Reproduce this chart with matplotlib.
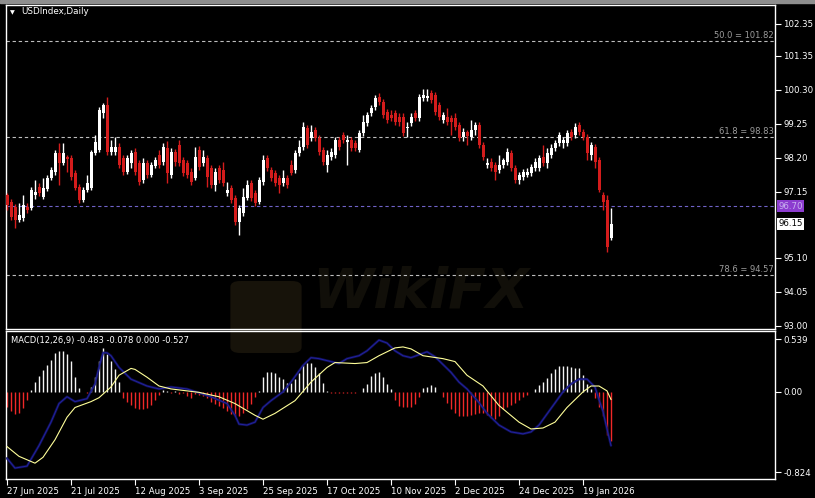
import numpy as np
import matplotlib
matplotlib.use("Agg")
import matplotlib.pyplot as plt
import matplotlib.transforms as mtransforms
from matplotlib.patches import FancyBboxPatch, Rectangle

# ---------------- data ----------------
opens = [97.04, 96.83, 96.67, 96.27, 96.33, 96.67, 96.64, 97.04, 97.29, 96.98,
         97.23, 97.57, 97.76, 98.34, 98.03, 98.22, 98.19, 97.72, 97.29, 96.89,
         97.20, 97.26, 98.34, 98.44, 99.58, 99.83, 98.37, 98.37, 98.53, 98.19,
         97.76, 98.03, 98.37, 98.03, 97.51, 98.03, 97.66, 97.94, 98.28, 98.06,
         98.50, 97.66, 98.37, 98.59, 98.13, 98.03, 97.76, 97.57, 98.44, 98.03,
         98.19, 97.88, 97.35, 97.88, 97.82, 97.11, 97.26, 96.95, 96.21, 96.49,
         96.95, 97.41, 97.11, 96.83, 97.45, 98.19, 97.82, 97.72, 97.57, 97.41,
         97.57, 97.97, 97.82, 98.34, 98.53, 99.12, 98.81, 99.06, 98.81, 98.44,
         97.97, 98.22, 98.28, 98.75, 98.90, 98.68, 98.75, 98.65, 98.44, 98.96,
         99.27, 99.58, 99.77, 100.08, 99.92, 99.61, 99.52, 99.58, 99.46, 99.46,
         99.12, 99.27, 99.58, 99.43, 100.05, 100.05, 100.20, 100.14, 99.83, 99.36,
         99.46, 99.43, 99.43, 99.21, 98.84, 98.99, 98.84, 99.06, 99.21, 98.59,
         97.97, 98.06, 97.97, 97.82, 97.97, 98.06, 98.34, 97.88, 97.51, 97.60,
         97.66, 97.72, 97.88, 97.88, 98.22, 98.03, 98.28, 98.50, 98.65, 98.65,
         98.65, 98.99, 98.90, 99.21, 98.99, 98.84, 98.28, 98.53, 98.13, 97.04,
         96.89, 95.71]
closes = [96.73, 96.36, 96.27, 96.42, 96.73, 96.58, 97.20, 97.14, 97.11, 97.26,
          97.57, 97.82, 98.34, 98.03, 98.34, 98.16, 97.60, 97.26, 96.89, 97.20,
          97.41, 98.37, 98.68, 99.67, 99.83, 98.37, 98.53, 98.53, 97.97, 97.76,
          98.19, 98.34, 97.76, 97.45, 98.03, 97.66, 97.97, 98.13, 97.97, 98.53,
          97.72, 98.37, 98.06, 98.03, 97.72, 97.66, 97.45, 98.22, 97.91, 98.22,
          97.60, 97.35, 97.76, 97.51, 97.41, 97.20, 96.89, 96.21, 96.64, 96.98,
          97.35, 96.95, 96.80, 97.51, 98.13, 97.88, 97.57, 97.41, 97.35, 97.57,
          97.35, 97.72, 98.34, 98.53, 99.15, 98.59, 98.99, 98.81, 98.37, 98.06,
          98.28, 98.37, 98.75, 98.53, 98.75, 98.75, 98.50, 98.50, 98.96, 99.30,
          99.52, 99.74, 100.05, 99.92, 99.52, 99.36, 99.43, 99.30, 99.30, 98.96,
          99.15, 99.46, 99.43, 100.08, 100.14, 100.11, 99.98, 99.61, 99.46, 99.52,
          99.30, 99.30, 99.15, 98.81, 98.99, 98.87, 99.06, 99.21, 98.59, 98.22,
          98.03, 97.88, 97.76, 97.97, 98.13, 98.37, 97.88, 97.51, 97.66, 97.76,
          97.76, 97.91, 98.06, 98.19, 98.03, 98.34, 98.50, 98.65, 98.90, 98.75,
          98.96, 98.84, 99.15, 98.99, 98.84, 98.34, 98.59, 98.06, 97.20, 96.83,
          95.43, 96.15]
highs = [97.10, 96.92, 96.76, 96.79, 97.04, 96.79, 97.29, 97.51, 97.41, 97.57,
         97.66, 97.91, 98.44, 98.65, 98.65, 98.28, 98.28, 97.82, 97.38, 97.29,
         97.66, 98.44, 98.90, 99.77, 99.89, 100.08, 98.75, 98.84, 98.65, 98.28,
         98.28, 98.44, 98.50, 98.13, 98.19, 98.13, 98.06, 98.22, 98.44, 98.65,
         98.71, 98.50, 98.47, 98.75, 98.22, 98.13, 97.88, 98.53, 98.56, 98.44,
         98.28, 97.97, 97.88, 97.97, 98.06, 97.45, 97.35, 97.04, 96.73, 97.26,
         97.51, 97.51, 97.20, 97.60, 98.28, 98.28, 97.91, 97.82, 97.66, 97.82,
         97.66, 98.13, 98.44, 98.75, 99.30, 99.21, 99.21, 99.15, 98.90, 98.53,
         98.44, 98.50, 98.84, 98.84, 98.99, 98.90, 98.84, 98.75, 99.06, 99.52,
         99.61, 99.83, 100.14, 100.20, 100.02, 99.71, 99.67, 99.67, 99.58, 99.58,
         99.30, 99.58, 99.67, 100.17, 100.32, 100.32, 100.29, 100.23, 99.92, 99.61,
         99.74, 99.52, 99.58, 99.30, 99.12, 99.06, 99.36, 99.30, 99.30, 98.68,
         98.19, 98.19, 98.06, 98.28, 98.19, 98.50, 98.44, 97.97, 97.76, 97.85,
         97.88, 98.00, 98.19, 98.28, 98.59, 98.50, 98.62, 98.75, 98.99, 98.84,
         99.06, 99.09, 99.27, 99.30, 99.09, 98.93, 98.68, 98.62, 98.22, 97.14,
         97.04, 96.64]
lows = [96.58, 96.27, 96.02, 96.21, 96.24, 96.49, 96.58, 96.92, 97.01, 96.92,
        97.17, 97.51, 97.66, 97.35, 97.97, 97.76, 97.51, 97.20, 96.79, 96.83,
        97.14, 97.20, 98.28, 98.37, 99.43, 98.28, 98.28, 98.28, 97.88, 97.66,
        97.69, 97.88, 97.66, 97.35, 97.41, 97.57, 97.60, 97.88, 97.88, 97.97,
        97.41, 97.57, 97.94, 97.94, 97.63, 97.57, 97.35, 97.51, 97.82, 97.94,
        97.29, 97.26, 97.17, 97.41, 97.32, 97.01, 96.79, 96.11, 95.80, 96.39,
        96.89, 96.86, 96.70, 96.76, 97.35, 97.79, 97.48, 97.32, 97.11, 97.32,
        97.26, 97.66, 97.72, 98.25, 98.44, 98.50, 98.71, 98.71, 98.28, 97.97,
        97.76, 98.13, 98.19, 98.44, 98.65, 97.97, 98.41, 98.41, 98.37, 98.87,
        99.18, 99.49, 99.67, 99.83, 99.43, 99.27, 99.33, 99.21, 99.18, 98.87,
        98.84, 99.18, 99.33, 99.33, 99.95, 99.95, 99.89, 99.52, 99.36, 99.27,
        99.21, 98.90, 99.06, 98.71, 98.71, 98.59, 98.75, 98.90, 98.50, 98.13,
        97.88, 97.79, 97.51, 97.72, 97.88, 97.97, 97.79, 97.41, 97.38, 97.51,
        97.60, 97.63, 97.79, 97.79, 97.94, 97.88, 98.19, 98.41, 98.56, 98.50,
        98.56, 98.75, 98.81, 98.90, 98.75, 98.13, 98.13, 97.88, 97.14, 96.58,
        95.28, 95.65]

hist = [-0.15, -0.20, -0.23, -0.22, -0.17, -0.08,
        0.02, 0.10, 0.16, 0.22, 0.28, 0.33, 0.40, 0.42, 0.42, 0.39, 0.32, 0.15, 0.04,
        0.0, -0.01,
        0.05, 0.15, 0.32, 0.45, 0.39, 0.32, 0.23, 0.10,
        -0.06, -0.10, -0.13, -0.17, -0.18, -0.18, -0.17, -0.13, -0.08, -0.03,
        0.02, 0.01, -0.01, 0.01, -0.02, -0.01, -0.04, -0.06,
        -0.02, -0.03, -0.04, -0.06, -0.10, -0.12, -0.14, -0.17, -0.20, -0.23, -0.25, -0.25,
        -0.22, -0.18, -0.12, -0.05,
        0.01, 0.15, 0.20, 0.20, 0.19, 0.15, 0.13, 0.09, 0.09, 0.13, 0.19, 0.28, 0.30, 0.30,
        0.25, 0.19, 0.09, 0.01,
        -0.01, -0.01, -0.01, -0.01, -0.01, -0.01, -0.01, 0.0,
        0.04, 0.08, 0.16, 0.19, 0.20, 0.15, 0.08, 0.03,
        -0.08, -0.14, -0.16, -0.16, -0.15, -0.12, -0.05,
        0.04, 0.05, 0.07, 0.05, 0.0,
        -0.05, -0.11, -0.18, -0.22, -0.25, -0.25, -0.25, -0.24, -0.23, -0.22, -0.22,
        -0.24, -0.27, -0.28, -0.25, -0.18, -0.15, -0.13, -0.11, -0.08, -0.05, -0.03,
        0.0,
        0.03, 0.07, 0.10, 0.14, 0.19, 0.23, 0.26, 0.26, 0.26, 0.25, 0.24, 0.24, 0.17, 0.08, 0.03,
        -0.06, -0.15, -0.25, -0.44, -0.50]

sig_idx = [0, 3, 7, 9, 12, 15, 17, 21, 23, 26, 28, 31, 32, 35, 38, 41, 48, 53, 57, 62,
           64, 67, 72, 76, 80, 82, 87, 90, 93, 97, 99, 101, 104, 109, 112, 115, 119, 123, 128, 131,
           134, 137, 140, 144, 146, 148, 150, 151]
sig_val = [-0.56, -0.66, -0.73, -0.67, -0.49, -0.26, -0.16, -0.10, -0.06, 0.05,
           0.17, 0.24, 0.23, 0.15, 0.06, 0.03, -0.005, -0.05, -0.12, -0.24,
           -0.28, -0.22, -0.09, 0.10, 0.25, 0.30, 0.29, 0.30, 0.37, 0.45,
           0.46, 0.44, 0.37, 0.34, 0.31, 0.17, 0.06, -0.14, -0.31, -0.38,
           -0.37, -0.31, -0.16, 0.0, 0.06, 0.06, 0.01, -0.078]

macd_idx = [0, 2, 5, 8, 11, 13, 15, 17, 20, 22, 23, 24, 25, 26, 28, 31, 35, 38, 41, 45,
            48, 51, 55, 57, 58, 60, 62, 64, 66, 69, 71, 74, 76, 78, 80, 83, 85, 88, 90, 93,
            95, 97, 99, 101, 103, 105, 107, 109, 111, 113, 115, 118, 120, 123, 126, 129, 131, 133,
            136, 139, 141, 143, 145, 147, 148, 149, 150, 151]
macd_val = [-0.68, -0.78, -0.76, -0.55, -0.31, -0.12, -0.05, -0.10, -0.07, 0.08,
            0.25, 0.40, 0.40, 0.37, 0.25, 0.13, 0.06, 0.03, 0.05, 0.03,
            -0.01, -0.05, -0.12, -0.24, -0.33, -0.34, -0.31, -0.16, -0.09, 0.0,
            0.10, 0.27, 0.35, 0.34, 0.32, 0.29, 0.34, 0.37, 0.42, 0.53,
            0.50, 0.42, 0.37, 0.35, 0.38, 0.41, 0.36, 0.28, 0.20, 0.10,
            0.03, -0.11, -0.22, -0.34, -0.41, -0.43, -0.41, -0.34, -0.17, 0.0,
            0.08, 0.13, 0.13, 0.05, -0.08, -0.20, -0.38, -0.55]

date_idx = [0, 16, 32, 48, 64, 80, 96, 112, 128, 144]
date_labels = ["27 Jun 2025", "21 Jul 2025", "12 Aug 2025", "3 Sep 2025", "25 Sep 2025",
               "17 Oct 2025", "10 Nov 2025", "2 Dec 2025", "24 Dec 2025", "19 Jan 2026"]
price_ticks = [102.35, 101.35, 100.30, 99.25, 98.20, 97.15, 95.10, 94.05, 93.00]
macd_ticks = [0.539, 0.0, -0.824]
macd_tick_labels = ["0.539", "0.00", "-0.824"]
fib_levels = ["50.0", "61.8", "78.6"]
fib_values = [101.82, 98.83, 94.57]
bid_level = 96.70
last_price = 96.15

# ---------------- figure ----------------
W, H = 815, 498
RED = "#d41c1c"
fig = plt.figure(figsize=(W / 100, H / 100), dpi=100, facecolor="black")

def fx(px):
    return px / W

def fy(py):
    return 1 - py / H

# window strip on top
fig.patches.append(Rectangle((0, fy(3)), 1, 3 / H, transform=fig.transFigure,
                             color="#8e8e8e", zorder=-2))

# watermark (faint, behind panels)
fig.patches.append(FancyBboxPatch((fx(232), fy(352)), fx(300) - fx(232), fy(282) - fy(352),
                                  boxstyle="round,pad=0.002,rounding_size=0.012",
                                  transform=fig.transFigure, fc="#17130a", ec="none", zorder=-1))
fig.text(fx(312), fy(292), "WikiFX", fontsize=40, fontweight="bold", fontstyle="italic",
         color="#110f09", ha="left", va="center", zorder=-1)

ax1 = fig.add_axes([fx(6), fy(329), fx(775) - fx(6), fy(5) - fy(329)])
ax2 = fig.add_axes([fx(6), fy(479), fx(775) - fx(6), fy(331) - fy(479)])

for ax in (ax1, ax2):
    ax.set_facecolor("none")
    for s in ax.spines.values():
        s.set_color("white")
        s.set_linewidth(1.0)
    ax.set_xlim(-0.25, 192)

o = np.array(opens)
c = np.array(closes)
h = np.array(highs)
l = np.array(lows)
idx = np.arange(len(c))
up = c >= o
cols = np.where(up, "white", RED)

ax1.vlines(idx, l, h, colors=cols, linewidth=1.0, zorder=3)
body = np.maximum(np.abs(c - o), 0.03)
ax1.bar(idx, body, bottom=np.minimum(o, c), width=0.75, color=cols, linewidth=0, zorder=4)

ax1.set_ylim(92.894, 102.925)
blend = mtransforms.blended_transform_factory(ax1.transAxes, ax1.transData)
for lvl, v in zip(fib_levels, fib_values):
    ax1.axhline(v, color="#bdbdbd", linewidth=0.8, linestyle=(0, (3, 2.5)), zorder=2)
    ax1.text(0.998, v + 0.03, f"{lvl} = {v:.2f}", transform=blend, ha="right", va="bottom",
             fontsize=6, color="#9c9c9c", zorder=5)
ax1.axhline(bid_level, color="#6f62c8", linewidth=0.8, linestyle=(0, (3, 2.5)), zorder=2)

ax1.yaxis.tick_right()
ax1.set_yticks(price_ticks)
ax1.set_yticklabels([f"{t:.2f}" for t in price_ticks])
ax1.set_xticks([])
ax1.tick_params(axis="y", colors="white", labelcolor="white", labelsize=6.2, length=4,
                width=0.8, pad=2, direction="out")

ax1.text(1.0045, bid_level, f"{bid_level:.2f}", transform=blend, ha="left", va="center",
         fontsize=6.2, color="#c9b2f0",
         bbox=dict(boxstyle="square,pad=0.15", fc="#8c3ccf", ec="none"), zorder=6)
ax1.text(1.0045, last_price, f"{last_price:.2f}", transform=blend, ha="left", va="center",
         fontsize=6.2, color="black",
         bbox=dict(boxstyle="square,pad=0.15", fc="white", ec="none"), zorder=6)

# ---------------- MACD ----------------
hv = np.array(hist)
hcols = np.where(hv >= 0, "#f4f4f4", "#f02828")
ax2.vlines(idx, 0, hv, colors=hcols, linewidth=1.0, zorder=2)
ax2.plot(macd_idx, macd_val, color="#12125e", linewidth=1.8, alpha=0.85, zorder=3,
         solid_joinstyle="round", solid_capstyle="round")
ax2.plot(macd_idx, macd_val, color="#2222a0", linewidth=0.7, zorder=4,
         solid_joinstyle="round")
ax2.plot(sig_idx, sig_val, color="#ffff99", linewidth=0.8, zorder=5, solid_joinstyle="round")
ax2.set_ylim(-0.892, 0.623)

ax2.yaxis.tick_right()
ax2.set_yticks(macd_ticks)
ax2.set_yticklabels(macd_tick_labels)
ax2.set_xticks(date_idx)
ax2.set_xticklabels(date_labels)
ax2.tick_params(axis="both", colors="white", labelcolor="white", labelsize=6.2, length=4,
                width=0.8, pad=2, direction="out")
for tl in ax2.get_xticklabels():
    tl.set_ha("left")

# titles
fig.text(fx(10), fy(12.5), "▼", fontsize=4.5, color="white", ha="left", va="center")
fig.text(fx(21), fy(12), "USDIndex,Daily", fontsize=6.3, color="white", ha="left", va="center")
fig.text(fx(11), fy(341), "MACD(12,26,9) -0.483 -0.078 0.000 -0.527", fontsize=6,
         color="white", ha="left", va="center")

fig.savefig("out.png", dpi=100, facecolor="black")
